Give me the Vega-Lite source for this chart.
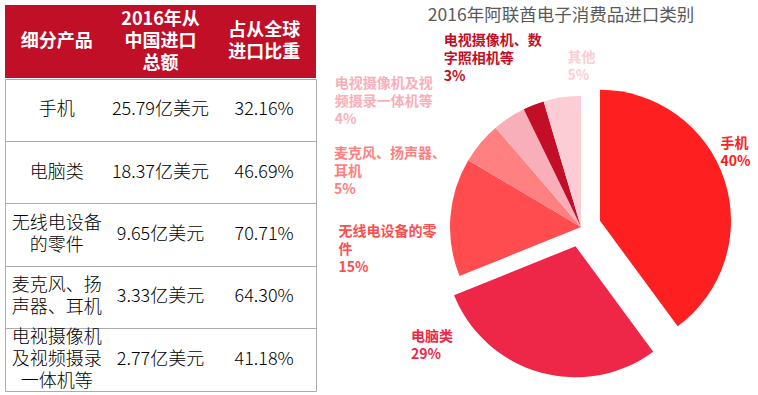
{
  "$schema": "https://vega.github.io/schema/vega-lite/v6.json",
  "padding": {"left": 4, "top": 5, "right": 0, "bottom": 5},
  "spacing": 17,
  "config": {
    "font": "Noto Sans CJK SC",
    "view": {"stroke": null},
    "locale": {"number": {"decimal": ".", "thousands": ",", "grouping": [3], "currency": ["", "亿美元"]}}
  },
  "datasets": {
    "header": [
      {"col": "产品", "title": "细分产品"},
      {"col": "进口额", "title": "2016年从\n中国进口\n总额"},
      {"col": "占比", "title": "占从全球\n进口比重"}
    ],
    "table": [
      {"product": "手机", "amount": 25.79, "share": 0.3216},
      {"product": "电脑类", "amount": 18.37, "share": 0.4669},
      {"product": "无线电设备\n的零件", "amount": 9.65, "share": 0.7071},
      {"product": "麦克风、扬\n声器、耳机", "amount": 3.33, "share": 0.6430},
      {"product": "电视摄像机\n及视频摄录\n一体机等", "amount": 2.77, "share": 0.4118}
    ],
    "pie": [
      {"cat": "手机", "pct": 39.9},
      {"cat": "电脑类", "pct": 29.0},
      {"cat": "无线电设备的零\n件", "pct": 14.6},
      {"cat": "麦克风、扬声器、\n耳机", "pct": 5.2},
      {"cat": "电视摄像机及视\n频摄录一体机等", "pct": 4.1},
      {"cat": "电视摄像机、数\n字照相机等", "pct": 2.6},
      {"cat": "其他", "pct": 4.6}
    ]
  },
  "hconcat": [
    {
      "spacing": 0,
      "vconcat": [
        {
          "width": 311,
          "height": 73,
          "data": {"name": "header"},
          "view": {"fill": "#C00F27", "stroke": null},
          "mark": {
            "type": "text", "color": "#FFFFFF", "fontWeight": "bold", "fontSize": 18, "lineBreak": "\n", "lineHeight": 22, "baseline": "middle",
            "dy": {"expr": "-(length(split(datum.title, '\\n')) - 1) * 11"}
          },
          "encoding": {
            "x": {"field": "col", "type": "nominal", "sort": null, "axis": null, "scale": {"type": "point", "padding": 0.5}},
            "text": {"field": "title"}
          }
        },
        {
          "width": 311,
          "height": 312,
          "data": {"name": "table"},
          "view": {"stroke": "#ABABAB", "strokeWidth": 1},
          "encoding": {
            "y": {
              "field": "product", "type": "nominal", "sort": null,
              "scale": {"type": "band", "paddingInner": 0, "paddingOuter": 0},
              "axis": {"title": null, "labels": false, "ticks": false, "domain": false, "grid": true, "gridColor": "#ABABAB", "gridOpacity": 1, "gridWidth": 1, "bandPosition": 0}
            }
          },
          "layer": [
            {
              "mark": {
                "type": "text", "color": "#000000", "fontSize": 18, "fontWeight": 300, "lineBreak": "\n", "lineHeight": 22, "baseline": "middle",
                "dy": {"expr": "-(length(split(datum.product, '\\n')) - 1) * 11"}
              },
              "encoding": {
                "x": {"datum": "产品", "type": "nominal", "axis": null, "scale": {"type": "point", "padding": 0.5, "domain": ["产品", "进口额", "占比"]}},
                "text": {"field": "product"}
              }
            },
            {
              "mark": {"type": "text", "color": "#000000", "fontSize": 18, "fontWeight": 300, "baseline": "middle"},
              "encoding": {
                "x": {"datum": "进口额", "type": "nominal", "axis": null},
                "text": {"field": "amount", "type": "quantitative", "format": "$.2f"}
              }
            },
            {
              "mark": {"type": "text", "color": "#000000", "fontSize": 18, "fontWeight": 300, "baseline": "middle"},
              "encoding": {
                "x": {"datum": "占比", "type": "nominal", "axis": null},
                "text": {"field": "share", "type": "quantitative", "format": ".2%"}
              }
            }
          ]
        }
      ]
    },
    {
      "width": 358,
      "height": 385,
      "title": {"text": "2016年阿联酋电子消费品进口类别", "fontSize": 17.5, "fontWeight": "normal", "color": "#595959", "font": "Noto Sans CJK SC", "anchor": "middle", "dx": -20, "offset": -19},
      "data": {"name": "pie"},
      "transform": [
        {"window": [{"op": "row_number", "as": "rank"}]},
        {"calculate": "datum.cat + '\\n' + format(datum.pct / 100, '.0%')", "as": "label"}
      ],
      "encoding": {
        "theta": {"field": "pct", "type": "quantitative", "stack": true},
        "order": {"field": "rank", "type": "quantitative"},
        "color": {
          "field": "cat", "type": "nominal", "legend": null,
          "scale": {
            "domain": ["手机", "电脑类", "无线电设备的零\n件", "麦克风、扬声器、\n耳机", "电视摄像机及视\n频摄录一体机等", "电视摄像机、数\n字照相机等", "其他"],
            "range": ["#FE2020", "#EE2648", "#FF4D4F", "#FF8080", "#F9AFB9", "#C20E26", "#FDCDD5"]
          }
        }
      },
      "layer": [
        {
          "mark": {
            "type": "arc", "outerRadius": 131,
            "xOffset": {"expr": "datum.rank <= 2 ? 20 * sin(PI * (datum.pct_start + datum.pct_end) / 100) : 0"},
            "yOffset": {"expr": "29.5 + (datum.rank <= 2 ? -20 * cos(PI * (datum.pct_start + datum.pct_end) / 100) : 0)"}
          }
        },
        {
          "mark": {
            "type": "text", "radius": 150, "align": "left", "baseline": "middle",
            "fontSize": 14, "fontWeight": "bold", "lineBreak": "\n", "lineHeight": 18,
            "yOffset": 29.5,
            "dx": {"expr": "[-3, -129, -93, -132, -164, -83, 8][datum.rank - 1]"},
            "dy": {"expr": "[-27, -25, 34, 41, 0, -28, -12][datum.rank - 1] - (length(split(datum.label, '\\n')) - 1) * 9"}
          },
          "encoding": {"text": {"field": "label"}}
        }
      ]
    }
  ]
}
